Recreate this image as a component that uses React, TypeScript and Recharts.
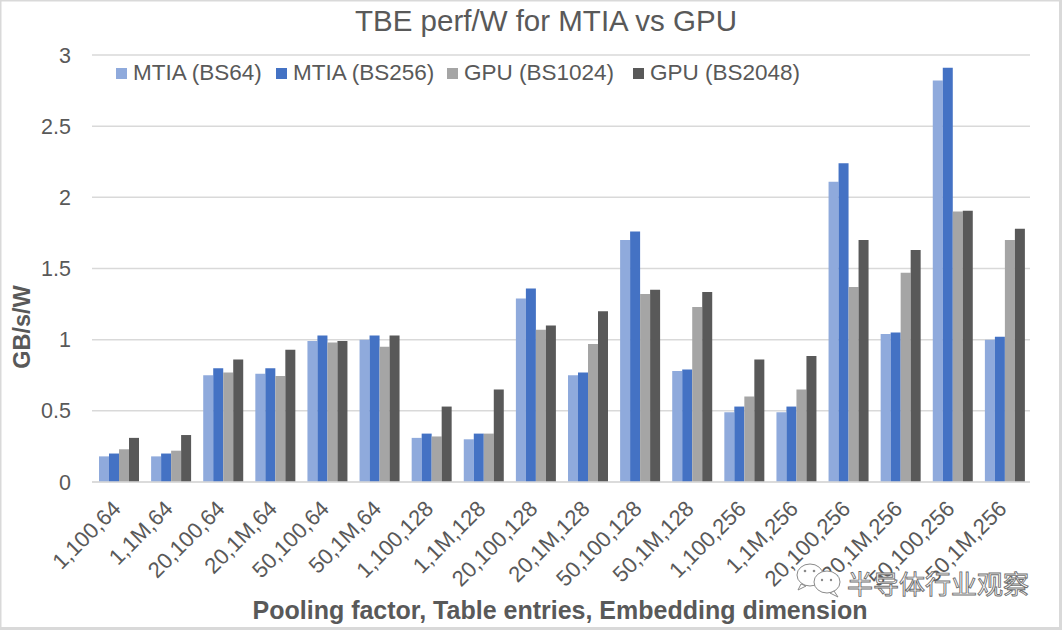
import React from 'react';
import { BarChart, Bar, XAxis, YAxis, CartesianGrid, Legend } from 'recharts';

if (typeof document !== 'undefined') {
  document.body.style.margin = '0';
  document.body.style.background = '#ffffff';
}

const categories = [
  '1,100,64', '1,1M,64', '20,100,64', '20,1M,64', '50,100,64', '50,1M,64',
  '1,100,128', '1,1M,128', '20,100,128', '20,1M,128', '50,100,128', '50,1M,128',
  '1,100,256', '1,1M,256', '20,100,256', '20,1M,256', '50,100,256', '50,1M,256',
];
const mtiaBS64 = [0.18, 0.18, 0.75, 0.76, 0.99, 1.0, 0.31, 0.3, 1.29, 0.75, 1.7, 0.78, 0.49, 0.49, 2.11, 1.04, 2.82, 1.0];
const mtiaBS256 = [0.2, 0.2, 0.8, 0.8, 1.03, 1.03, 0.34, 0.34, 1.36, 0.77, 1.76, 0.79, 0.53, 0.53, 2.24, 1.05, 2.91, 1.02];
const gpuBS1024 = [0.23, 0.22, 0.77, 0.745, 0.98, 0.95, 0.32, 0.34, 1.07, 0.97, 1.32, 1.23, 0.6, 0.65, 1.37, 1.47, 1.9, 1.7];
const gpuBS2048 = [0.31, 0.33, 0.86, 0.93, 0.99, 1.03, 0.53, 0.65, 1.1, 1.2, 1.35, 1.335, 0.86, 0.885, 1.7, 1.63, 1.905, 1.78];
const yTicks = [0, 0.5, 1, 1.5, 2, 2.5, 3];

const seriesNames = ['MTIA (BS64)', 'MTIA (BS256)', 'GPU (BS1024)', 'GPU (BS2048)'];
const seriesColors = ['#8FAADC', '#4472C4', '#A5A5A5', '#595959'];
const seriesKeys = ['s0', 's1', 's2', 's3'];
const seriesValues = [mtiaBS64, mtiaBS256, gpuBS1024, gpuBS2048];

const data = categories.map((c, i) => {
  const row: Record<string, string | number> = { name: c };
  seriesKeys.forEach((k, j) => {
    row[k] = seriesValues[j][i];
  });
  return row;
});

const FONT = '"Liberation Sans", Arial, Helvetica, sans-serif';
const TEXT = '#595959';
const GRID = '#D9D9D9';

const XTick = (props: any) => {
  const { x, y, payload } = props;
  const ax = x + 4;
  const ay = y + 28;
  return (
    <text
      x={ax}
      y={ay}
      textAnchor="end"
      fontSize={22}
      fontFamily={FONT}
      fill={TEXT}
      transform={`rotate(-45, ${ax}, ${ay})`}
    >
      {payload.value}
    </text>
  );
};

const legendLefts = [116, 276, 447, 633];

const LegendContent = (props: any) => {
  const payload = [...(props.payload || [])].sort(
    (a: any, b: any) => seriesNames.indexOf(a.value) - seriesNames.indexOf(b.value)
  );
  return (
    <div style={{ position: 'relative', width: 1062, height: 30 }}>
      {payload.map((p: any, i: number) => (
        <div
          key={p.value}
          style={{
            position: 'absolute',
            left: legendLefts[i],
            top: 0,
            display: 'flex',
            alignItems: 'center',
            whiteSpace: 'nowrap',
            fontFamily: FONT,
            fontSize: 22.5,
            color: TEXT,
            lineHeight: '26px',
          }}
        >
          <span style={{ display: 'inline-block', width: 11, height: 11, background: p.color, marginRight: 6 }} />
          <span>{p.value}</span>
        </div>
      ))}
    </div>
  );
};

export default function App() {
  return (
    <div style={{ position: 'relative', width: 1062, height: 630, background: '#fff', overflow: 'hidden' }}>
      <BarChart
        width={1062}
        height={630}
        data={data}
        margin={{ top: 55, right: 32, bottom: 0, left: 0 }}
        barCategoryGap={7}
        barGap={0}
      >
        <CartesianGrid vertical={false} stroke={GRID} strokeWidth={1.5} />
        <XAxis
          dataKey="name"
          height={148}
          interval={0}
          tick={<XTick />}
          tickLine={false}
          tickSize={0}
          tickMargin={0}
          axisLine={{ stroke: GRID, strokeWidth: 1.5 }}
        />
        <YAxis
          width={92}
          domain={[0, 3]}
          ticks={yTicks}
          interval={0}
          axisLine={false}
          tickLine={false}
          tickSize={0}
          tickMargin={21}
          tick={{ fontSize: 21.5, fill: TEXT, fontFamily: FONT }}
        />
        <Legend
          verticalAlign="middle"
          align="center"
          layout="horizontal"
          itemSorter={null as any}
          content={<LegendContent />}
          wrapperStyle={{ position: 'absolute', top: 60, left: 0, width: 1062, height: 30 }}
        />
        {seriesKeys.map((k, j) => (
          <Bar key={k} dataKey={k} name={seriesNames[j]} fill={seriesColors[j]} isAnimationActive={false} />
        ))}
      </BarChart>
      <svg
        width={1062}
        height={630}
        style={{ position: 'absolute', left: 0, top: 0, pointerEvents: 'none' }}
      >
        <text x={546} y={31} textAnchor="middle" fontSize={29.5} fontFamily={FONT} fill={TEXT}>
          TBE perf/W for MTIA vs GPU
        </text>
        <text
          x={30}
          y={327}
          textAnchor="middle"
          fontSize={23.5}
          fontWeight="bold"
          fontFamily={FONT}
          fill={TEXT}
          transform="rotate(-90, 30, 327)"
        >
          GB/s/W
        </text>
        <text x={560} y={619} textAnchor="middle" fontSize={25} fontWeight="bold" fontFamily={FONT} fill={TEXT}>
          Pooling factor, Table entries, Embedding dimension
        </text>
        {/* watermark */}
        <g stroke="#8a8a8a" strokeWidth={1} fill="#ffffff">
          <ellipse cx={810} cy={575} rx={13} ry={11} />
          <path d="M801 584 L798 590 L806 586 Z" />
          <ellipse cx={827} cy={582} rx={13} ry={11} />
          <path d="M834 591 L838 597 L830 593 Z" />
        </g>
        <g fill="#8a8a8a">
          <circle cx={805} cy={571} r={1.3} />
          <circle cx={814} cy={571} r={1.3} />
          <circle cx={822} cy={580} r={1.2} />
          <circle cx={831} cy={580} r={1.2} />
        </g>
        <text
          x={847}
          y={594}
          fontSize={26}
          fontFamily='"Noto Sans CJK SC", sans-serif'
          fill="#ffffff"
          stroke="#6f6f6f"
          strokeWidth={0.9}
        >
          半导体行业观察
        </text>
        <rect x={0.75} y={0.75} width={1059.5} height={627.5} fill="none" stroke={GRID} strokeWidth={1.5} />
        <rect x={1059} y={0} width={3} height={630} fill={GRID} />
        <rect x={0} y={627} width={1062} height={3} fill={GRID} />
      </svg>
    </div>
  );
}
